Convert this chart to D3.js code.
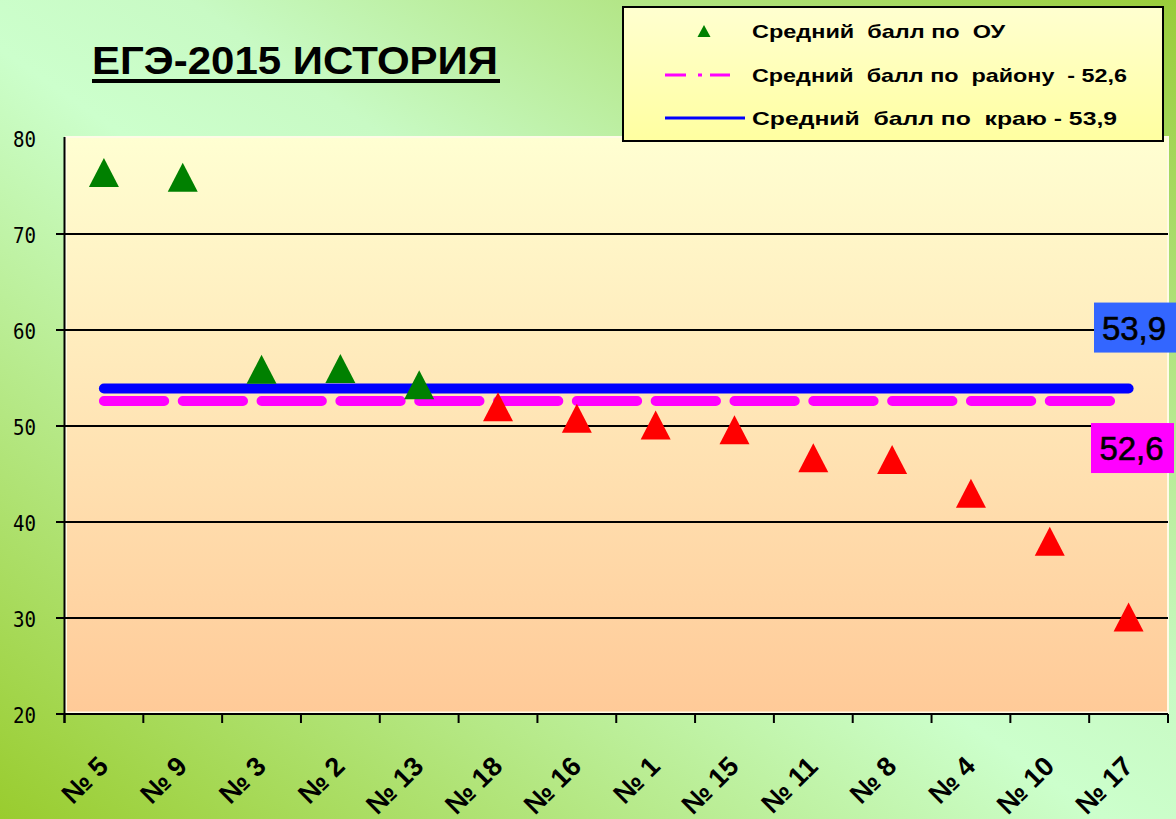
<!DOCTYPE html>
<html><head><meta charset="utf-8">
<script src="https://cdn.jsdelivr.net/npm/d3@7"></script>
<style>body{margin:0;overflow:hidden;background:#fff} svg{display:block}</style>
</head><body><svg id="c" width="1176" height="819"></svg>
<script>
const categories = ["№ 5","№ 9","№ 3","№ 2","№ 13","№ 18","№ 16","№ 1","№ 15","№ 11","№ 8","№ 4","№ 10","№ 17"];
const schoolAvg = [76.4,75.9,55.9,56.0,54.3,52.0,50.8,50.1,49.6,46.7,46.5,43.0,38.0,30.1];
const districtAvg = 52.6;
const regionAvg = 53.9;
const yTicks = [20,30,40,50,60,70,80];
const titleText = "ЕГЭ-2015 ИСТОРИЯ";
const legendLabels = ["Средний  балл по  ОУ","Средний  балл по  району  - 52,6","Средний  балл по  краю - 53,9"];
const valueLabels = ["53,9","52,6"];

const svg = d3.select("#c");
const W = 1176, H = 819;
const defs = svg.append("defs");

const bg = defs.append("linearGradient").attr("id","bg").attr("x1",0).attr("y1",1).attr("x2",1).attr("y2",0);
bg.append("stop").attr("offset",0).attr("stop-color","#99cc2e");
bg.append("stop").attr("offset",0.47).attr("stop-color","#ccffcc");
bg.append("stop").attr("offset",0.58).attr("stop-color","#c8fac4");
bg.append("stop").attr("offset",1).attr("stop-color","#99cc3a");

const pg = defs.append("linearGradient").attr("id","pg").attr("x1",0).attr("y1",0).attr("x2",0).attr("y2",1);
pg.append("stop").attr("offset",0).attr("stop-color","#ffffd2");
pg.append("stop").attr("offset",1).attr("stop-color","#ffca98");

const lg = defs.append("linearGradient").attr("id","lg").attr("x1",0).attr("y1",0).attr("x2",0).attr("y2",1);
lg.append("stop").attr("offset",0).attr("stop-color","#ffffd0");
lg.append("stop").attr("offset",1).attr("stop-color","#ffffa0");

svg.append("rect").attr("width",W).attr("height",H).attr("fill","url(#bg)");

const pLeft = 64.5, pRight = 1168, pTop = 137, pBottom = 714;
const x = d3.scaleBand().domain(categories).range([pLeft, pRight]).padding(0);
const cx = c => x(c) + x.bandwidth()/2;
const y = d3.scaleLinear().domain([20,80]).range([pBottom, 138]);

// plot panel
svg.append("rect").attr("x",pLeft+1.5).attr("y",pTop).attr("width",pRight-pLeft-1.5).attr("height",pBottom-pTop-1.5)
  .attr("fill","url(#pg)").attr("stroke","#fffbe6").attr("stroke-width",2);

// gridlines
const g = svg.append("g");
g.selectAll("line.grid").data(yTicks.filter(t=>t>20 && t<80)).enter().append("line")
  .attr("x1",56).attr("x2",pRight).attr("y1",d=>y(d)).attr("y2",d=>y(d))
  .attr("stroke","#000").attr("stroke-width",2);
// x axis line
g.append("line").attr("x1",56).attr("x2",pRight).attr("y1",y(20)).attr("y2",y(20)).attr("stroke","#000").attr("stroke-width",2);
// y axis line
g.append("line").attr("x1",pLeft).attr("x2",pLeft).attr("y1",pTop).attr("y2",723).attr("stroke","#000").attr("stroke-width",2);
// x ticks
const bounds = categories.map(c=>x(c)).concat([pRight]);
g.selectAll("line.xt").data(bounds).enter().append("line")
  .attr("x1",d=>d).attr("x2",d=>d).attr("y1",pBottom).attr("y2",723).attr("stroke","#000").attr("stroke-width",2);
// y labels
g.selectAll("text.yl").data(yTicks).enter().append("text")
  .attr("x",36).attr("y",d=>y(d)+8.5).attr("text-anchor","end")
  .attr("font-family","DejaVu Sans Mono, Liberation Mono").attr("font-size",22).attr("fill","#000")
  .attr("textLength",23).attr("lengthAdjust","spacingAndGlyphs")
  .text(d=>d);
// x labels
g.selectAll("text.xl").data(categories).enter().append("text")
  .attr("transform",d=>`translate(${cx(d)+6},768) rotate(-45)`)
  .attr("text-anchor","end").attr("font-family","Liberation Sans, Arial").attr("font-weight","bold")
  .attr("font-size",27).attr("fill","#000").text(d=>d);

// district line (dashed, magenta)
const step = x.bandwidth();
svg.append("line").attr("x1",cx(categories[0])).attr("x2",cx(categories[categories.length-1]))
  .attr("y1",y(districtAvg)).attr("y2",y(districtAvg))
  .attr("stroke","#ff00ff").attr("stroke-width",10).attr("stroke-linecap","round")
  .attr("stroke-dasharray",`${step*0.765} ${step*0.235}`);
// region line (solid blue)
svg.append("line").attr("x1",cx(categories[0])).attr("x2",cx(categories[categories.length-1]))
  .attr("y1",y(regionAvg)).attr("y2",y(regionAvg))
  .attr("stroke","#0000ff").attr("stroke-width",10).attr("stroke-linecap","round");

// triangle symbol
function tri(w,h){ return {draw(ctx){ ctx.moveTo(0,-h/2); ctx.lineTo(w/2,h/2); ctx.lineTo(-w/2,h/2); ctx.closePath(); }}; }
const bigTri = d3.symbol().type(tri(30,29))();
svg.append("g").selectAll("path").data(schoolAvg).enter().append("path")
  .attr("d",bigTri)
  .attr("transform",(d,i)=>`translate(${cx(categories[i])},${y(d)})`)
  .attr("fill",d=> d>=regionAvg ? "#008000" : "#ff0000");

// value label boxes
const boxes = [
  {v:regionAvg, label:valueLabels[0], color:"#3366ff", x0:1094, x1:1176, off:-61},
  {v:districtAvg, label:valueLabels[1], color:"#ff00ff", x0:1091, x1:1174, off:47}
];
boxes.forEach(b=>{
  const yc = y(b.v)+b.off;
  svg.append("rect").attr("x",b.x0).attr("y",yc-25).attr("width",b.x1-b.x0).attr("height",50).attr("fill",b.color);
  svg.append("text").attr("x",(b.x0+b.x1)/2-1).attr("y",yc+12).attr("text-anchor","middle")
    .attr("font-family","Liberation Sans, Arial").attr("font-size",33).attr("fill","#000")
    .attr("stroke","#000").attr("stroke-width",0.6).text(b.label);
});

// title
svg.append("text").attr("x",92).attr("y",74).attr("font-family","Liberation Sans, Arial").attr("font-weight","bold")
  .attr("font-size",39).attr("textLength",406).attr("lengthAdjust","spacingAndGlyphs").attr("fill","#000").text(titleText);
svg.append("rect").attr("x",92).attr("y",79).attr("width",408).attr("height",4).attr("fill","#000");

// legend
const lgG = svg.append("g");
lgG.append("rect").attr("x",623).attr("y",7).attr("width",540).attr("height",134)
  .attr("fill","url(#lg)").attr("stroke","#000").attr("stroke-width",2);
const rows = [31,75,118];
const lens = [253,375,365];
lgG.append("path").attr("d",d3.symbol().type(tri(13,12))()).attr("transform",`translate(704,${rows[0]})`).attr("fill","#008000");
lgG.append("line").attr("x1",665).attr("x2",730).attr("y1",rows[1]).attr("y2",rows[1])
  .attr("stroke","#ff00ff").attr("stroke-width",3).attr("stroke-dasharray","21 12 4 8 20");
lgG.append("line").attr("x1",665).attr("x2",745).attr("y1",rows[2]).attr("y2",rows[2])
  .attr("stroke","#0000ff").attr("stroke-width",3);
lgG.selectAll("text").data(legendLabels).enter().append("text")
  .attr("x",752).attr("y",(d,i)=>rows[i]+7).attr("xml:space","preserve").style("white-space","pre")
  .attr("font-family","Liberation Sans, Arial").attr("font-weight","bold").attr("font-size",19)
  .attr("textLength",(d,i)=>lens[i]).attr("lengthAdjust","spacingAndGlyphs").attr("fill","#000").text(d=>d);
</script>
</body></html>
